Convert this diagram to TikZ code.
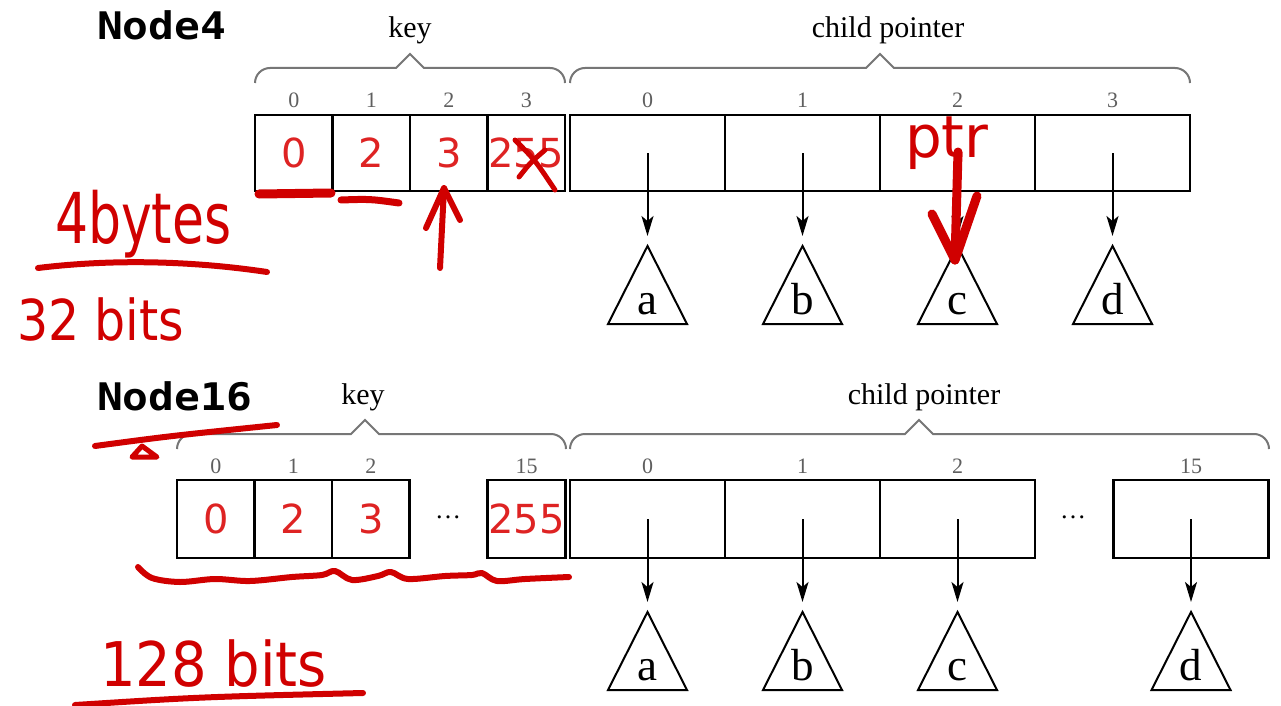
\documentclass[tikz,border=0pt]{standalone}
\usepackage{fontspec}
\setmainfont{Liberation Serif}
\newfontfamily\titlefont{DejaVu Sans Mono}
\newfontfamily\keyfont{DejaVu Sans}
\newfontfamily\handfont{DejaVu Sans}
\usetikzlibrary{arrows.meta}

\definecolor{inkred}{RGB}{208,0,0}
\definecolor{keyred}{RGB}{222,35,35}
\definecolor{bracegray}{RGB}{118,118,118}
\definecolor{idxgray}{RGB}{95,95,95}

\newcommand\fs[1]{\fontsize{#1}{#1}\selectfont}

% curly brace with a pointed middle: #1 left x, #2 right x, #3 tip x, #4 y of the bar
\newcommand\drawbrace[4]{%
  \draw[brace] (#1,#4+15) arc[start angle=180,end angle=270,radius=15]
    -- (#3-14,#4) -- (#3,#4-14) -- (#3+14,#4) -- (#2-15,#4)
    arc[start angle=270,end angle=360,radius=15];}

% subtree triangle: #1 name of apex, #2 x, #3 apex y, #4 letter
\newcommand\subtree[4]{%
  \draw[tri] (#2,#3) coordinate (#1) -- (#2+39.5,#3+78) -- (#2-39.5,#3+78) -- cycle;
  \node[leaf, anchor=base] (#1l) at (#2,#3+68) {#4};}

\begin{document}
\begin{tikzpicture}[x=1pt,y=-1pt,
  every node/.style={inner sep=0pt, outer sep=0pt},
  title/.style={font=\titlefont\bfseries\fs{38}},
  lbl/.style={font=\fs{30}},
  idx/.style={font=\fs{22}, text=idxgray},
  leaf/.style={font=\fs{45}},
  dotsnode/.style={font=\fs{26}},
  kcell/.style={draw, line width=2.6pt, minimum width=77.5, minimum height=#1},
  pcell/.style={draw, line width=2.6pt, minimum width=155, minimum height=#1},
  keyval/.style={font=\keyfont\fs{40}, text=keyred},
  brace/.style={draw=bracegray, line width=2pt},
  tri/.style={draw, line width=2pt, line join=miter},
  link/.style={draw, line width=2pt, shorten >=10pt,
    -{Stealth[length=20pt,width=12pt,inset=5pt]}},
  hand/.style={draw=inkred, line width=6pt, line cap=round, line join=round},
  handtext/.style={font=\handfont\fs{#1}, text=inkred},
]
\fill[white] (0,0) rectangle (1281,706);
\useasboundingbox (0,0) rectangle (1281,706);

% ---------------- Node4 ----------------
\node[title, anchor=base west] (n4title) at (97,40) {\scalebox{1.13}[1]{Node4}};
\node[lbl, anchor=base] (n4keylab) at (410,38) {key};
\node[lbl, anchor=base] (n4ptrlab) at (888,38) {child pointer};
\drawbrace{255}{565}{410}{68}
\drawbrace{570}{1190}{880}{68}

\foreach \i/\x/\v in {0/293.75/0, 1/371.25/2, 2/448.75/3, 3/526.25/255} {
  \node[kcell=76] (a\i) at (\x,153) {};
  \node[idx] (ai\i) at (\x,100) {\i};
}
\foreach \i/\x/\v in {0/293.75/0, 1/371.25/2, 2/448.75/3, 3/526.25/255} {
  \node[keyval] (av\i) at (\x,153) {\v};
}

\foreach \i/\x/\l in {0/647.5/a, 1/802.5/b, 2/957.5/c, 3/1112.5/d} {
  \node[pcell=76] (p\i) at (\x,153) {};
  \node[idx] (pi\i) at (\x,100) {\i};
  \subtree{t\i}{\x}{246}{\l}
  \draw[link] (p\i.center) -- (t\i);
}

% ---------------- Node16 ----------------
\node[title, anchor=base west] (n16title) at (97,410) {\scalebox{1.13}[1]{Node16}};
\node[lbl, anchor=base] (n16keylab) at (363,404) {key};
\node[lbl, anchor=base] (n16ptrlab) at (924,404) {child pointer};
\drawbrace{177}{566}{365}{434}
\drawbrace{570}{1269}{919}{434}

\foreach \i/\x/\v in {0/215.75/0, 1/293.25/2, 2/370.75/3, 15/526.5/255} {
  \node[kcell=78] (b\i) at (\x,519) {};
  \node[idx] (bi\i) at (\x,466) {\i};
}
\foreach \i/\x/\v in {0/215.75/0, 1/293.25/2, 2/370.75/3, 15/526.5/255} {
  \node[keyval] (bv\i) at (\x,519) {\v};
}
\node[dotsnode] (bdots) at (448,517) {\dots};

\foreach \i/\x/\l in {0/647.5/a, 1/802.5/b, 2/957.5/c, 15/1191/d} {
  \node[pcell=78] (q\i) at (\x,519) {};
  \node[idx] (qi\i) at (\x,466) {\i};
  \subtree{s\i}{\x}{612}{\l}
  \draw[link] (q\i.center) -- (s\i);
}
\node[dotsnode] (qdots) at (1073,517) {\dots};

% ---------------- red pen notes ----------------
% Node4 keys
\draw[hand, line width=9pt] (259,194) -- (331,193);
\draw[hand, line width=7pt] (341,200) .. controls (370,199) .. (399,203);
\coordinate (upfoot) at (440,268);
\coordinate (uptip) at (444,188);
\draw[hand] (upfoot) -- (uptip);
\draw[hand] (426,228) -- (uptip) -- (460,220);
\draw[hand, line width=5pt] (515,140) .. controls (535,160) .. (555,190);
\draw[hand, line width=5pt] (519,177) .. controls (530,163) .. (545,150);

\node[handtext=52, anchor=base west] (bytes4) at (55,243) {\scalebox{1}[1.35]{4bytes}};
\draw[hand] (38,268) .. controls (120,258) and (200,262) .. (267,272);
\node[handtext=49, anchor=base west] (bits32) at (17,340) {\scalebox{1}[1.15]{32 bits}};

% child pointer 2
\node[handtext=58, anchor=base west] (ptrnote) at (905,157) {ptr};
\coordinate (ptrtop) at (958,152);
\coordinate (ptrtip) at (955,260);
\draw[hand, line width=9pt] (ptrtop) -- (ptrtip);
\draw[hand, line width=9pt] (932,214) -- (ptrtip) -- (977,196);

% Node16
\draw[hand] (95,446) .. controls (170,436) .. (277,425);
\draw[hand, line width=5pt] (132,457) -- (142,446) -- (157,457) -- cycle;
\draw[hand] plot[smooth, tension=0.55] coordinates {
  (138,567) (152,578) (180,582) (215,579) (250,581) (292,577) (322,575)
  (335,571) (352,580) (378,576) (391,572) (408,579) (445,576) (472,575)
  (482,573) (497,581) (525,579) (569,577)};
\node[handtext=56, anchor=base west] (bits128) at (100,686) {\scalebox{1}[1.1]{128 bits}};
\draw[hand] (75,705) .. controls (200,697) .. (363,693);
\end{tikzpicture}
\end{document}
